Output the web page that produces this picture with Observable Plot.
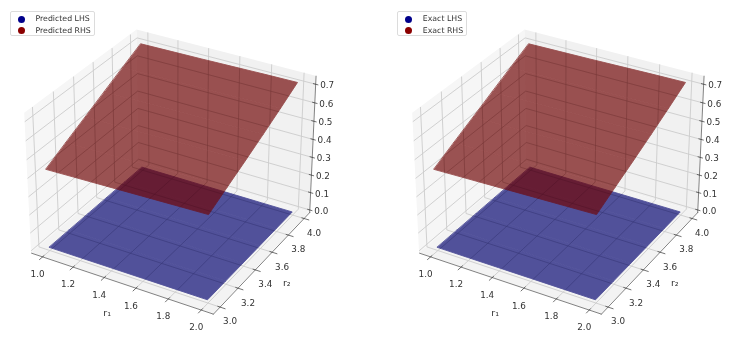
<!DOCTYPE html>
<html>
<head>
<meta charset="utf-8">
<script src="https://cdn.jsdelivr.net/npm/d3@7"></script>
<script src="https://cdn.jsdelivr.net/npm/@observablehq/plot@0.6"></script>
<style>
html,body{margin:0;padding:0;background:#fff}
#page{position:relative;width:741px;height:338px;overflow:hidden;font-family:"DejaVu Sans",sans-serif;filter:blur(0.4px)}
.panel{position:absolute;top:0}
.panel svg{display:block;background:none}
.legend{position:absolute;top:11px;height:25px;background:rgba(255,255,255,.8);border:1px solid #dcdcdc;border-radius:2px;font-size:7.8px;color:#333;box-sizing:border-box}
.legend div{position:absolute;left:24.5px;white-space:nowrap;line-height:10px}
.legend i{position:absolute;left:6.5px;width:7px;height:7px;border-radius:50%}
</style>
</head>
<body>
<div id="page"></div>
<script>
// Tick values of the three axes
const r1Ticks = [1.0, 1.2, 1.4, 1.6, 1.8, 2.0];
const r2Ticks = [3.0, 3.2, 3.4, 3.6, 3.8, 4.0];
const zTicks  = [0.0, 0.1, 0.2, 0.3, 0.4, 0.5, 0.6, 0.7];

// Surface heights: rows follow r2Ticks, columns follow r1Ticks
const lhsValues = [
  [0.000, 0.000, 0.000, 0.000, 0.000, 0.000],
  [0.000, 0.000, 0.000, 0.000, 0.000, 0.000],
  [0.000, 0.000, 0.000, 0.000, 0.000, 0.000],
  [0.000, 0.000, 0.000, 0.000, 0.000, 0.000],
  [0.000, 0.000, 0.000, 0.000, 0.000, 0.000],
  [0.000, 0.000, 0.000, 0.000, 0.000, 0.000]
];
const rhsValues = [
  [0.431, 0.436, 0.441, 0.446, 0.451, 0.456],
  [0.487, 0.491, 0.495, 0.499, 0.503, 0.507],
  [0.542, 0.545, 0.548, 0.551, 0.554, 0.557],
  [0.598, 0.600, 0.602, 0.604, 0.606, 0.609],
  [0.653, 0.654, 0.656, 0.657, 0.659, 0.663],
  [0.707, 0.709, 0.711, 0.714, 0.717, 0.719]
];

const panels = [
  {key: "a", lhsName: "Predicted LHS", rhsName: "Predicted RHS", left: 0,     legendLeft: 10,    legendWidth: 84.5},
  {key: "b", lhsName: "Exact LHS",     rhsName: "Exact RHS",     left: 387.7, legendLeft: 397.3, legendWidth: 70}
];

// matplotlib-style 3D view: elev 30, azim -60, box aspect 4:4:3
const xLim = [0.95, 2.05], yLim = [2.95, 4.05], zLim = [0, 0.728];
const pad = a => (a[1] - a[0]) / 48;
const xPane = [xLim[0] - pad(xLim), xLim[1] + pad(xLim)];
const yPane = [yLim[0] - pad(yLim), yLim[1] + pad(yLim)];
const zPane = [zLim[0] - pad(zLim), zLim[1] + pad(zLim)];
const box = [1.19, 1.19, 0.893], dist = 10;
const u = [0.8660254, 0.5, 0], v = [-0.25, 0.4330127, 0.8660254], w = [0.4330127, -0.75, 0.5];
function project(x, y, z) {
  const d = [
    ((x - xLim[0]) / (xLim[1] - xLim[0]) - 0.5) * box[0],
    ((y - yLim[0]) / (yLim[1] - yLim[0]) - 0.5) * box[1],
    ((z - zLim[0]) / (zLim[1] - zLim[0]) - 0.5) * box[2]
  ];
  const dot = a => a[0] * d[0] + a[1] * d[1] + a[2] * d[2];
  const k = dist - dot(w);
  return {px: dot(u) / k, py: dot(v) / k};
}
const polyline = (id, pts) => pts.map(p => ({id, ...project(...p)}));
const band = (id, a, b) => a.map((p, i) => {
  const s = project(...p), t = project(...b[i]);
  return {id, px1: s.px, py1: s.py, px2: t.px, py2: t.py};
});

// Panes
const [x0, x1] = xPane, [y0, y1] = yPane, [z0, z1] = zPane;
const wallLeft  = band("l", [[x0, y0, z0], [x0, y1, z0]], [[x0, y0, z1], [x0, y1, z1]]);
const wallRight = band("r", [[x0, y1, z0], [x1, y1, z0]], [[x0, y1, z1], [x1, y1, z1]]);
const floorPane = band("f", [[x0, y0, z0], [x1, y0, z0]], [[x0, y1, z0], [x1, y1, z0]]);

// Grid lines
const grid = [
  ...r1Ticks.flatMap(r => polyline("x" + r, [[r, y0, z0], [r, y1, z0], [r, y1, z1]])),
  ...r2Ticks.flatMap(r => polyline("y" + r, [[x1, r, z0], [x0, r, z0], [x0, r, z1]])),
  ...zTicks.flatMap(t => polyline("z" + t, [[x0, y0, t], [x0, y1, t], [x1, y1, t]]))
];

// Axis spines and tick marks
const spines = [
  ...polyline("ax", [[x0, y0, z0], [x1, y0, z0]]),
  ...polyline("ay", [[x1, y0, z0], [x1, y1, z0]]),
  ...polyline("az", [[x1, y1, z0], [x1, y1, z1]])
];
const tickMarks = [
  ...r1Ticks.flatMap(r => polyline("tx" + r, [[r, y0 + 0.014, z0], [r, y0 - 0.03, z0]])),
  ...r2Ticks.flatMap(r => polyline("ty" + r, [[x1 - 0.014, r, z0], [x1 + 0.03, r, z0]])),
  ...zTicks.flatMap(t => polyline("tz" + t, [[x1 - 0.014, y1, t], [x1 + 0.014, y1, t]]))
];
const labelRow = (ticks, at) => ticks.map(t => ({text: t.toFixed(1), ...project(...at(t))}));
const r1Labels = labelRow(r1Ticks, t => [t, y0, z0]);
const r2Labels = labelRow(r2Ticks, t => [x1, t, z0]);
const zLabels  = labelRow(zTicks,  t => [x1, y1, t]);

// Surfaces
const surface = table => r2Ticks.slice(1).flatMap((r2, j) =>
  band("s" + j,
    r1Ticks.map((r1, i) => [r1, r2Ticks[j], table[j][i]]),
    r1Ticks.map((r1, i) => [r1, r2, table[j + 1][i]])));
const outline = table => {
  const last = table.length - 1, end = r1Ticks.length - 1;
  return [
    [r1Ticks[0], r2Ticks[0], table[0][0]],
    [r1Ticks[end], r2Ticks[0], table[0][end]],
    [r1Ticks[end], r2Ticks[last], table[last][end]],
    [r1Ticks[0], r2Ticks[last], table[last][0]]
  ].map(p => project(...p));
};

const groupOpacity = o => (index, scales, values, dims, ctx, next) => {
  const g = next(index, scales, values, dims, ctx);
  g.setAttribute("opacity", o);
  return g;
};
// The grid seen through the surfaces reads darker: clip a dark copy of it to their outlines
const clippedToSurfaces = key => (index, scales, values, dims, ctx, next) => {
  const g = next(index, scales, values, dims, ctx);
  const ns = "http://www.w3.org/2000/svg";
  const clip = document.createElementNS(ns, "clipPath");
  clip.setAttribute("id", "surf-" + key);
  for (const table of [lhsValues, rhsValues]) {
    const poly = document.createElementNS(ns, "polygon");
    poly.setAttribute("points", outline(table).map(p => `${scales.x(p.px)},${scales.y(p.py)}`).join(" "));
    clip.appendChild(poly);
  }
  const wrap = document.createElementNS(ns, "g");
  wrap.appendChild(clip);
  g.setAttribute("clip-path", `url(#surf-${key})`);
  wrap.appendChild(g);
  return wrap;
};
const surfaceMark = (table, colour) => Plot.area(surface(table), {
  x1: "px1", y1: "py1", x2: "px2", y2: "py2", z: "id",
  fill: colour, stroke: colour, strokeWidth: 0.9, curve: "linear",
  render: groupOpacity(0.68)
});
const paneMark = (rows, colour) => Plot.area(rows, {
  x1: "px1", y1: "py1", x2: "px2", y2: "py2", fill: colour, curve: "linear"
});
const tickText = (rows, dx, dy) => Plot.text(rows, {
  x: "px", y: "py", text: "text", dx, dy, fontSize: 8.8, fill: "#333333", fontFamily: "DejaVu Sans"
});
const w3 = 353, h3 = 338, sx = 1680, sy = 1715, cx = 172.8, cy = 164.5;

function drawPanel(p) {
  const chart = Plot.plot({
    width: w3, height: h3, margin: 0,
    x: {axis: null, domain: [-cx / sx, (w3 - cx) / sx], range: [0, w3]},
    y: {axis: null, domain: [(cy - h3) / sy, cy / sy], range: [h3, 0]},
    style: {background: "none"},
    marks: [
      paneMark(wallLeft, "#f6f6f6"),
      paneMark(wallRight, "#f1f1f1"),
      paneMark(floorPane, "#f3f3f3"),
      Plot.line(grid, {x: "px", y: "py", z: "id", stroke: "#cccccc", strokeWidth: 0.9, curve: "linear"}),
      Plot.line(spines, {x: "px", y: "py", z: "id", stroke: "#4a4a4a", strokeWidth: 0.7, curve: "linear"}),
      Plot.line(tickMarks, {x: "px", y: "py", z: "id", stroke: "#333333", strokeWidth: 0.7, curve: "linear"}),
      surfaceMark(lhsValues, "#060671"),
      surfaceMark(rhsValues, "#700505"),
      Plot.line(grid, {x: "px", y: "py", z: "id", stroke: "#000000", strokeOpacity: 0.08, strokeWidth: 0.9, curve: "linear", render: clippedToSurfaces(p.key)}),
      tickText(r1Labels, -5, 17.5),
      tickText(r2Labels, 10, 14.5),
      tickText(zLabels, 11.5, 1.2),
      Plot.text([{text: "r₁", ...project(1.52, y0, z0)}], {x: "px", y: "py", text: "text", dx: -16, dy: 29, fontSize: 9.5, fill: "#333333", fontFamily: "DejaVu Sans"}),
      Plot.text([{text: "r₂", ...project(x1, 3.5, z0)}], {x: "px", y: "py", text: "text", dx: 23, dy: 22, fontSize: 9.5, fill: "#333333", fontFamily: "DejaVu Sans"})
    ]
  });
  const host = document.createElement("div");
  host.className = "panel";
  host.style.left = p.left + "px";
  host.appendChild(chart);
  document.getElementById("page").appendChild(host);

  const legend = document.createElement("div");
  legend.className = "legend";
  legend.style.left = p.legendLeft + "px";
  legend.style.width = p.legendWidth + "px";
  legend.innerHTML =
    `<i style="top:3.5px;background:#00008b"></i><div style="top:2px">${p.lhsName}</div>` +
    `<i style="top:14.5px;background:#8b0000"></i><div style="top:13.5px">${p.rhsName}</div>`;
  document.getElementById("page").appendChild(legend);
}
panels.forEach(drawPanel);
</script>
</body>
</html>
